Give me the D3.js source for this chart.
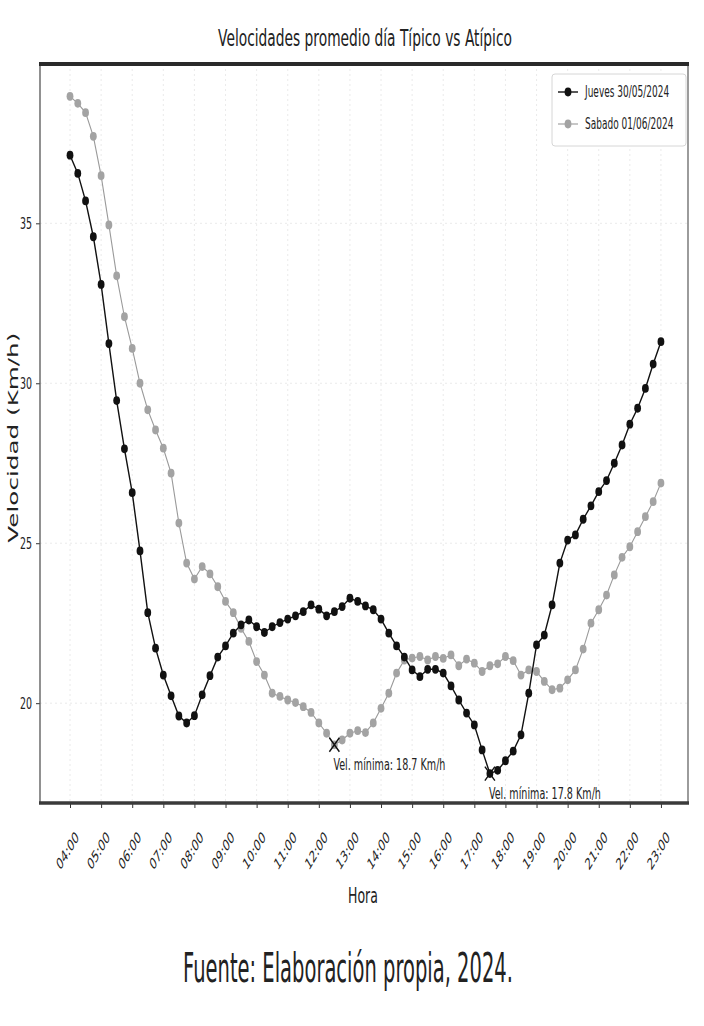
<!DOCTYPE html>
<html>
<head>
<meta charset="utf-8">
<script src="https://cdn.jsdelivr.net/npm/d3@7"></script>
<style>
  body { margin: 0; background: #fff; }
  text { font-family: "DejaVu Sans", sans-serif; fill: #222; }
</style>
</head>
<body>
<div id="main"></div>
<script>
// hour ticks on the x axis
var hourLabels = ['04:00', '05:00', '06:00', '07:00', '08:00', '09:00', '10:00', '11:00', '12:00', '13:00',
    '14:00', '15:00', '16:00', '17:00', '18:00', '19:00', '20:00', '21:00', '22:00', '23:00'];
var firstHour = 4;
var stepHours = 0.25;   // one reading every 15 minutes

// average speed (km/h), 04:00 .. 23:00
var jueves = [37.13, 36.56, 35.70, 34.58, 33.09, 31.24, 29.46, 27.95, 26.58, 24.76,
    22.83, 21.72, 20.88, 20.23, 19.60, 19.38, 19.61, 20.26, 20.86, 21.44,
    21.79, 22.19, 22.45, 22.60, 22.39, 22.21, 22.39, 22.52, 22.63, 22.73,
    22.86, 23.07, 22.94, 22.73, 22.86, 23.02, 23.28, 23.18, 23.04, 22.92,
    22.63, 22.19, 21.79, 21.44, 21.04, 20.83, 21.06, 21.06, 20.94, 20.54,
    20.10, 19.69, 19.32, 18.54, 17.80, 17.90, 18.20, 18.50, 19.01, 20.31,
    21.82, 22.13, 23.07, 24.38, 25.10, 25.26, 25.75, 26.17, 26.61, 26.96,
    27.50, 28.07, 28.72, 29.22, 29.84, 30.60, 31.30];
var sabado = [38.97, 38.75, 38.46, 37.72, 36.49, 34.95, 33.36, 32.08, 31.09, 30.00,
    29.17, 28.54, 27.97, 27.19, 25.63, 24.38, 23.88, 24.27, 24.04, 23.64,
    23.18, 22.83, 22.34, 21.93, 21.30, 20.88, 20.31, 20.21, 20.10, 20.02,
    19.89, 19.71, 19.38, 19.06, 18.70, 18.85, 19.06, 19.14, 19.08, 19.38,
    19.84, 20.31, 20.94, 21.35, 21.41, 21.46, 21.35, 21.46, 21.40, 21.51,
    21.17, 21.38, 21.25, 20.99, 21.17, 21.23, 21.46, 21.33, 20.88, 21.04,
    20.99, 20.68, 20.42, 20.47, 20.73, 21.04, 21.69, 22.50, 22.92, 23.38,
    24.01, 24.56, 24.89, 25.36, 25.83, 26.30, 26.88];
var yTicks = [20, 25, 30, 35];

var series = [
    {name: 'Jueves 30/05/2024', values: jueves, line: '#111', dot: '#111', width: 1.4},
    {name: 'Sabado 01/06/2024', values: sabado, line: '#9a9a9a', dot: '#a3a3a3', width: 1.1}
];

var W = 704, H = 1026;
var margin = {top: 64, left: 40, right: 16, bottom: 223};
var width = W - margin.left - margin.right,
    height = H - margin.top - margin.bottom;
var sy = 1.7;  // the picture is stretched vertically, text too

var svg = d3.select('#main').append('svg')
    .attr('width', W)
    .attr('height', H);
svg.append('rect').attr('width', W).attr('height', H).attr('fill', '#fff');

var g = svg.append('g')
    .attr('transform', 'translate(' + margin.left + ',' + margin.top + ')');

var x = d3.scaleLinear()
    .domain([3.035, 23.87])
    .range([0, width]);
var y = d3.scaleLinear()
    .domain([16.88, 39.98])
    .range([height, 0]);

var hourOf = (d, i) => firstHour + i * stepHours;

// faint grid
g.append('g').selectAll('line')
    .data(hourLabels)
    .enter().append('line')
    .attr('x1', (d, i) => x(firstHour + i)).attr('x2', (d, i) => x(firstHour + i))
    .attr('y1', 0).attr('y2', height)
    .attr('stroke', '#e4e4e4').attr('stroke-width', 0.8)
    .attr('stroke-dasharray', '2,3');
g.append('g').selectAll('line')
    .data(yTicks)
    .enter().append('line')
    .attr('x1', 0).attr('x2', width)
    .attr('y1', d => y(d)).attr('y2', d => y(d))
    .attr('stroke', '#e4e4e4').attr('stroke-width', 0.8)
    .attr('stroke-dasharray', '2,3');

// axes
var xAxis = g.append('g')
    .attr('transform', 'translate(0,' + height + ')')
    .call(d3.axisBottom(x)
        .tickValues(hourLabels.map((d, i) => firstHour + i))
        .tickFormat((d, i) => hourLabels[i])
        .tickSize(5));
xAxis.select('.domain').remove();
xAxis.selectAll('.tick line').attr('stroke', '#333');
xAxis.selectAll('.tick text')
    .attr('font-size', 9.5)
    .attr('font-family', 'DejaVu Sans')
    .attr('fill', '#222')
    .attr('text-anchor', 'middle')
    .attr('x', 0).attr('y', 0).attr('dy', '0.35em')
    .attr('transform', 'scale(1,' + sy + ') translate(-3,28) rotate(-45)');

var yAxis = g.append('g')
    .call(d3.axisLeft(y).tickValues(yTicks).tickSize(4));
yAxis.select('.domain').remove();
yAxis.selectAll('.tick line').attr('stroke', '#333');
yAxis.selectAll('.tick text')
    .attr('font-size', 9.5)
    .attr('font-family', 'DejaVu Sans')
    .attr('fill', '#222')
    .attr('x', -8)
    .attr('y', 0)
    .attr('transform', 'scale(1,' + sy + ')');

// frame
g.append('line').attr('x1', 0).attr('x2', 0).attr('y1', 0).attr('y2', height)
    .attr('stroke', '#555').attr('stroke-width', 1.3);
g.append('line').attr('x1', width).attr('x2', width).attr('y1', 0).attr('y2', height)
    .attr('stroke', '#666').attr('stroke-width', 1.3);
g.append('line').attr('x1', -1).attr('x2', width + 1).attr('y1', 0).attr('y2', 0)
    .attr('stroke', '#2a2a2a').attr('stroke-width', 4);
g.append('line').attr('x1', -1).attr('x2', width + 1).attr('y1', height).attr('y2', height)
    .attr('stroke', '#3a3a3a').attr('stroke-width', 3.5);

// lines and dots
var line = d3.line()
    .x((d, i) => x(hourOf(d, i)))
    .y(d => y(d));

series.slice().reverse().forEach(function(s) {
    var grp = g.append('g');
    grp.append('path')
        .datum(s.values)
        .attr('d', line)
        .attr('fill', 'none')
        .attr('stroke', s.line)
        .attr('stroke-width', s.width);
    grp.selectAll('ellipse')
        .data(s.values)
        .enter().append('ellipse')
        .attr('cx', (d, i) => x(hourOf(d, i)))
        .attr('cy', d => y(d))
        .attr('rx', 3.4)
        .attr('ry', 4.4)
        .attr('fill', s.dot);
});

// minimum markers
series.forEach(function(s) {
    var mi = d3.minIndex(s.values);
    var mx = x(hourOf(null, mi)), my = y(s.values[mi]);
    g.append('path')
        .attr('d', 'M' + (mx - 5) + ',' + (my - 7) + 'L' + (mx + 5) + ',' + (my + 7) +
            'M' + (mx - 5) + ',' + (my + 7) + 'L' + (mx + 5) + ',' + (my - 7))
        .attr('stroke', '#111').attr('stroke-width', 1.4).attr('fill', 'none');
    g.append('text')
        .attr('transform', 'translate(' + (mx - 1) + ',' + (my + 25) + ') scale(1,' + sy + ')')
        .attr('font-size', 9.6)
        .text('Vel. mínima: ' + s.values[mi].toFixed(1) + ' Km/h');
});

// legend
var legend = g.append('g')
    .attr('transform', 'translate(' + (width - 136) + ',10)');
legend.append('rect')
    .attr('width', 134).attr('height', 72).attr('rx', 3)
    .attr('fill', '#fff').attr('stroke', '#d6d6d6');
var items = legend.selectAll('g.item')
    .data(series)
    .enter().append('g')
    .attr('class', 'item')
    .attr('transform', (d, i) => 'translate(0,' + (18 + i * 32) + ')');
items.append('line')
    .attr('x1', 6).attr('x2', 26).attr('y1', 0).attr('y2', 0)
    .attr('stroke', d => d.line).attr('stroke-width', d => d.width);
items.append('ellipse')
    .attr('cx', 16).attr('cy', 0).attr('rx', 3.4).attr('ry', 4.4)
    .attr('fill', d => d.dot);
items.append('text')
    .attr('transform', 'translate(33,0) scale(1,' + sy + ')')
    .attr('dy', '0.35em')
    .attr('font-size', 9)
    .text(d => d.name);

// title and axis labels
svg.append('text')
    .attr('transform', 'translate(' + (margin.left + width / 2 + 1) + ',46) scale(1,' + sy + ')')
    .attr('text-anchor', 'middle')
    .attr('font-size', 13.8)
    .text('Velocidades promedio día Típico vs Atípico');

svg.append('text')
    .attr('transform', 'translate(' + (margin.left + width / 2 - 1) + ',903) scale(1,' + sy + ')')
    .attr('text-anchor', 'middle')
    .attr('font-size', 12.5)
    .text('Hora');

svg.append('text')
    .attr('transform', 'translate(18,' + (margin.top + y(28.3)) + ') scale(1,' + sy + ') rotate(-90)')
    .attr('text-anchor', 'middle')
    .attr('font-size', 14.5)
    .text('Velocidad (Km/h)');

// source note
var note = svg.append('text')
    .attr('font-family', '"Liberation Sans Narrow", "Liberation Sans", sans-serif')
    .attr('font-size', 22)
    .attr('text-anchor', 'middle')
    .attr('fill', '#111')
    .text('Fuente: Elaboración propia, 2024.');
var nw = note.node().getComputedTextLength();
note.attr('transform', 'translate(348,982) scale(' + (330 / nw) + ',1.85)');
</script>
</body>
</html>
